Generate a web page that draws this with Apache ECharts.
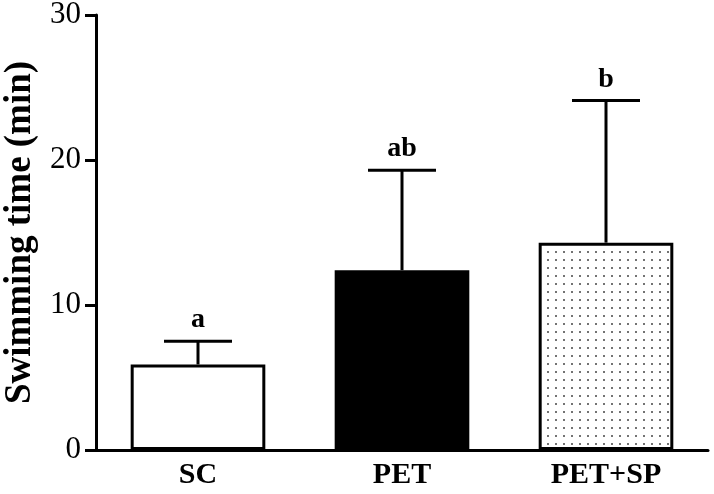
<!DOCTYPE html>
<html><head><meta charset="utf-8">
<script src="https://cdn.jsdelivr.net/npm/echarts@6/dist/echarts.min.js"></script>
<style>html,body{margin:0;padding:0;background:#fff}#c{width:714px;height:494px}</style>
</head><body><div id="c"></div>
<script>
const categories = ['SC', 'PET', 'PET+SP'];
const means = [5.9, 12.4, 14.3];
const errTops = [7.5, 19.3, 24.1];
const sigLetters = ['a', 'ab', 'b'];
const yTicks = [0, 10, 20, 30];

// dotted pattern
const pc = document.createElement('canvas');
pc.width = 8; pc.height = 8;
const px = pc.getContext('2d');
px.fillStyle = '#fff'; px.fillRect(0, 0, 8, 8);
px.fillStyle = '#444';
px.beginPath(); px.arc(4, 4, 1.0, 0, Math.PI * 2); px.fill();

const fills = ['#ffffff', '#000000', { image: pc, repeat: 'repeat' }];
const font = 'Liberation Serif, Times New Roman, serif';

const chart = echarts.init(document.getElementById('c'));
chart.setOption({
  animation: false,
  grid: { left: 96, right: 6, top: 15, bottom: 44, containLabel: false, outerBoundsMode: 'none' },
  xAxis: {
    type: 'category', data: categories,
    axisLine: { lineStyle: { color: '#000', width: 3 } },
    axisTick: { show: false },
    axisLabel: { color: '#000', fontFamily: font, fontWeight: 'bold', fontSize: 30, margin: 10 }
  },
  yAxis: {
    type: 'value', min: 0, max: 30, interval: 10,
    name: 'Swimming time (min)', nameLocation: 'middle', nameGap: 56,
    nameTextStyle: { color: '#000', fontFamily: font, fontWeight: 'bold', fontSize: 37 },
    splitLine: { show: false },
    axisLine: { show: true, lineStyle: { color: '#000', width: 3 } },
    axisTick: { show: true, length: 11, lineStyle: { color: '#000', width: 3 } },
    axisLabel: { color: '#000', fontFamily: font, fontSize: 31, margin: 15,
      formatter: v => yTicks.includes(v) ? String(v) : '' }
  },
  series: [
    {
      type: 'bar', barWidth: '66%',
      data: means.map((v, i) => ({ value: v, itemStyle: { color: fills[i] } })),
      itemStyle: { borderColor: '#000', borderWidth: 3 },
      z: 2
    },
    {
      type: 'custom', z: 3,
      data: means.map((v, i) => [i, v, errTops[i]]),
      renderItem: function (params, api) {
        const x = api.value(0);
        const lo = api.coord([x, api.value(1)]);
        const hi = api.coord([x, api.value(2)]);
        const hw = 34;
        const i = params.dataIndex;
        return {
          type: 'group',
          children: [
            { type: 'line', shape: { x1: lo[0], y1: lo[1], x2: hi[0], y2: hi[1] }, style: { stroke: '#000', lineWidth: 3 } },
            { type: 'line', shape: { x1: hi[0] - hw, y1: hi[1], x2: hi[0] + hw, y2: hi[1] }, style: { stroke: '#000', lineWidth: 3 } },
            { type: 'text', x: hi[0], y: hi[1] - 7, style: { text: sigLetters[i], fill: '#000', font: 'bold 28px ' + font, align: 'center', verticalAlign: 'bottom' } }
          ]
        };
      }
    }
  ]
});
</script></body></html>
